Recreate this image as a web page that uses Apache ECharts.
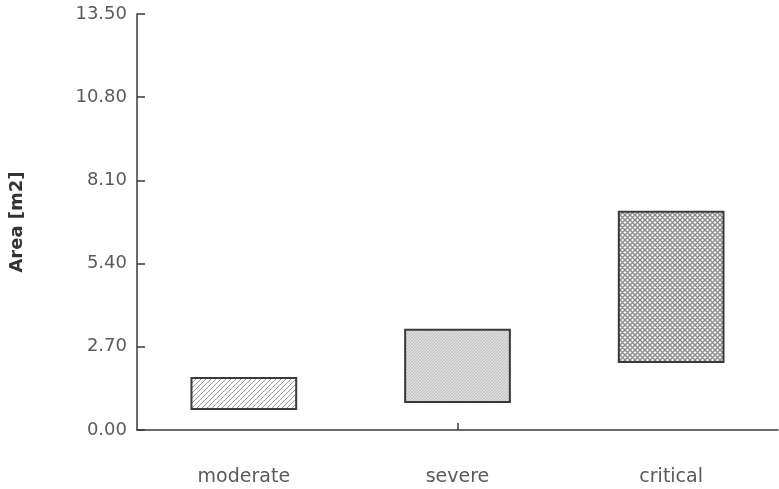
<!DOCTYPE html>
<html>
<head>
<meta charset="utf-8">
<script src="https://cdn.jsdelivr.net/npm/echarts@6/dist/echarts.min.js"></script>
<style>
  html, body { margin: 0; padding: 0; background: #ffffff; }
  #chart { width: 779px; height: 489px; }
</style>
</head>
<body>
<div id="chart"></div>
<script>
// Area ranges per severity class
var categories = ['moderate', 'severe', 'critical'];
var lowValues  = [0.68, 0.91, 2.21];
var highValues = [1.69, 3.25, 7.08];
var yTickLabels = ['0.00', '2.70', '5.40', '8.10', '10.80', '13.50'];

// Fill textures drawn on small canvas tiles
function makeTile(size, draw) {
  var c = document.createElement('canvas');
  c.width = size; c.height = size;
  var ctx = c.getContext('2d');
  draw(ctx, size);
  return { image: c, repeat: 'repeat' };
}

var hatchSingle = makeTile(5, function (ctx, s) {
  ctx.fillStyle = '#ffffff';
  ctx.fillRect(0, 0, s, s);
  ctx.strokeStyle = '#9a9a9a';
  ctx.lineWidth = 1;
  ctx.beginPath();
  ctx.moveTo(-1, s + 1); ctx.lineTo(s + 1, -1);
  ctx.moveTo(-1, 1); ctx.lineTo(1, -1);
  ctx.moveTo(s - 1, s + 1); ctx.lineTo(s + 1, s - 1);
  ctx.stroke();
});

var hatchFine = makeTile(3, function (ctx, s) {
  ctx.fillStyle = '#dcdcdc';
  ctx.fillRect(0, 0, s, s);
  ctx.strokeStyle = '#c0c0c0';
  ctx.lineWidth = 1;
  ctx.beginPath();
  ctx.moveTo(-1, s + 1); ctx.lineTo(s + 1, -1);
  ctx.stroke();
});

var hatchCross = makeTile(5, function (ctx, s) {
  ctx.fillStyle = '#ffffff';
  ctx.fillRect(0, 0, s, s);
  ctx.strokeStyle = '#8c8c8c';
  ctx.lineWidth = 1.5;
  ctx.beginPath();
  ctx.moveTo(-1, s + 1); ctx.lineTo(s + 1, -1);
  ctx.moveTo(-1, -1); ctx.lineTo(s + 1, s + 1);
  ctx.moveTo(-1, 1); ctx.lineTo(1, -1);
  ctx.moveTo(s - 1, s + 1); ctx.lineTo(s + 1, s - 1);
  ctx.moveTo(s - 1, -1); ctx.lineTo(s + 1, 1);
  ctx.moveTo(-1, s - 1); ctx.lineTo(1, s + 1);
  ctx.stroke();
});

var fills = [hatchSingle, hatchFine, hatchCross];

var rangeData = categories.map(function (c, i) {
  return [i, lowValues[i], highValues[i]];
});

var chart = echarts.init(document.getElementById('chart'), null, { renderer: 'canvas' });

var axisColor = '#3a3a3a';
var labelColor = '#5a5a5a';

chart.setOption({
  backgroundColor: '#ffffff',
  animation: false,
  grid: { left: 135, right: 1, top: 14, bottom: 59, containLabel: false },
  xAxis: {
    type: 'category',
    data: categories,
    boundaryGap: true,
    axisLine: { show: true, lineStyle: { color: axisColor, width: 1.5 } },
    axisTick: {
      show: true,
      inside: true,
      length: 7,
      alignWithLabel: true,
      interval: function (index) { return index === 1; },
      lineStyle: { color: axisColor, width: 1.5 }
    },
    axisLabel: {
      margin: 38,
      color: labelColor,
      fontFamily: 'DejaVu Sans',
      fontSize: 19
    },
    splitLine: { show: false }
  },
  yAxis: {
    type: 'value',
    min: 0,
    max: 13.5,
    interval: 2.7,
    name: 'Area [m2]',
    nameLocation: 'middle',
    nameRotate: 90,
    nameGap: 111,
    nameTextStyle: {
      color: '#333333',
      fontFamily: 'DejaVu Sans',
      fontWeight: 'bold',
      fontSize: 18
    },
    axisLine: { show: true, lineStyle: { color: axisColor, width: 1.5 } },
    axisTick: { show: true, inside: true, length: 8, lineStyle: { color: axisColor, width: 1.5 } },
    axisLabel: {
      margin: 10,
      color: labelColor,
      fontFamily: 'DejaVu Sans',
      fontSize: 18,
      formatter: function (v) {
        var idx = Math.round(v / 2.7);
        return yTickLabels[idx] !== undefined ? yTickLabels[idx] : v.toFixed(2);
      }
    },
    splitLine: { show: false }
  },
  series: [{
    type: 'custom',
    data: rangeData,
    encode: { x: 0, y: [1, 2] },
    renderItem: function (params, api) {
      var i = api.value(0);
      var lo = api.coord([i, api.value(1)]);
      var hi = api.coord([i, api.value(2)]);
      var w = api.size([1, 0])[0] * 0.49;
      return {
        type: 'rect',
        shape: { x: lo[0] - w / 2, y: hi[1], width: w, height: lo[1] - hi[1] },
        style: { fill: fills[i], stroke: '#3a3a3a', lineWidth: 2 }
      };
    }
  }]
});
</script>
</body>
</html>
